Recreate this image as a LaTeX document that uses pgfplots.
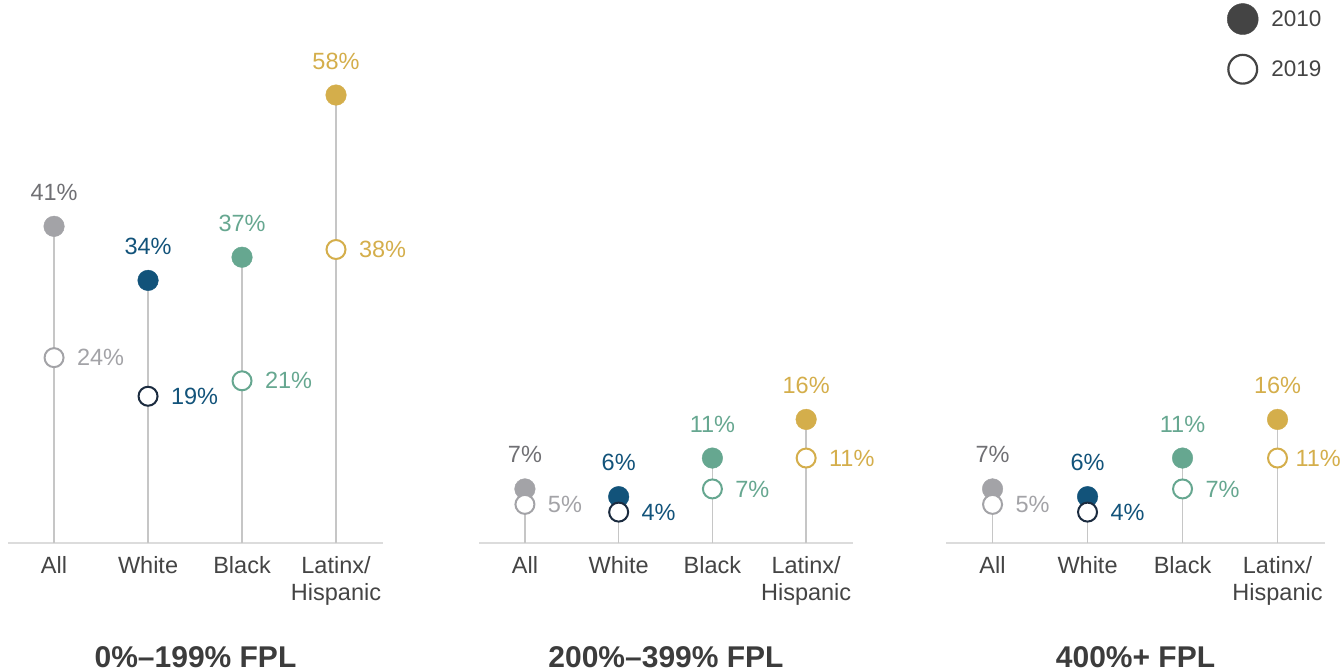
\documentclass[border=0pt]{standalone}
\usepackage{fontspec}
\setmainfont{Liberation Sans}
\usepackage{pgfplots}
\pgfplotsset{compat=1.18}

\definecolor{allc}{HTML}{A3A3A7}
\definecolor{alllab}{HTML}{707074}
\definecolor{whitec}{HTML}{12537A}
\definecolor{whitering}{HTML}{1B2B3F}
\definecolor{blackc}{HTML}{66A790}
\definecolor{latc}{HTML}{D4AE4B}
\definecolor{stem}{HTML}{C6C6C6}
\definecolor{baseln}{HTML}{DCDCDC}
\definecolor{txt}{HTML}{444444}
\definecolor{ttl}{HTML}{3C3C3C}

\newcommand\lblfont{\fontsize{23.5bp}{27bp}\selectfont}

% [#1] shift of the 2019 label, #2 x, #3 value 2010, #4 value 2019,
% #5 dot colour, #6 ring colour, #7 label colour 2010, #8 label colour 2019
\newcommand\lolli[8][22bp]{%
  \addplot[ycomb, draw=stem, line width=1.5bp, forget plot] coordinates {(#2,#3)};
  \addplot[only marks, color=#5, mark=*, mark size=10.3bp, forget plot,
    nodes near coords={#3\%},
    every node near coord/.append style={font=\lblfont, text=#7, anchor=base, yshift=26bp, inner sep=0pt}]
    coordinates {(#2,#3)};
  \addplot[only marks, mark=*, mark size=9.5bp, mark options={draw=#6, fill=white, line width=2bp}, forget plot,
    nodes near coords={#4\%},
    every node near coord/.append style={font=\lblfont, text=#8, anchor=west, xshift=#1, yshift=0bp, inner sep=0pt}]
    coordinates {(#2,#4)};
}

\pgfplotsset{panel/.style={
  scale only axis, height=463.4bp, anchor=south west,
  ymin=0, ymax=60, xmin=-0.49, xmax=3.5,
  axis y line=none, axis x line*=bottom,
  x axis line style={draw=baseln, line width=2bp},
  xtick={0,1,2,3}, xticklabels={All,White,Black,{Latinx/\\Hispanic}},
  major tick length=0pt,
  xticklabel style={font=\lblfont, text=txt, align=center, anchor=north, inner sep=0pt, yshift=-13bp},
  clip=false,
  xlabel style={font=\fontsize{30bp}{34bp}\selectfont\bfseries, text=ttl,
    at={(axis description cs:0.5,0)}, anchor=base, yshift=-124bp},
}}

\begin{document}
\begin{tikzpicture}
\path[use as bounding box] (0bp,0bp) rectangle (1342bp,672bp);

% 0%-199% FPL
\begin{axis}[panel, at={(8bp,129bp)}, width=375bp, xlabel={0\%–199\% FPL}]
  \lolli{0}{41}{24}{allc}{allc}{alllab}{allc}
  \lolli{1}{34}{19}{whitec}{whitering}{whitec}{whitec}
  \lolli{2}{37}{21}{blackc}{blackc}{blackc}{blackc}
  \lolli{3}{58}{38}{latc}{latc}{latc}{latc}
\end{axis}

% 200%-399% FPL
\begin{axis}[panel, at={(479bp,129bp)}, width=374bp, xlabel={200\%–399\% FPL}]
  \lolli{0}{7}{5}{allc}{allc}{alllab}{allc}
  \lolli{1}{6}{4}{whitec}{whitering}{whitec}{whitec}
  \lolli{2}{11}{7}{blackc}{blackc}{blackc}{blackc}
  \lolli{3}{16}{11}{latc}{latc}{latc}{latc}
\end{axis}

% 400%+ FPL
\begin{axis}[panel, at={(946bp,129bp)}, width=379bp, xlabel={400\%+ FPL},
  legend cell align=left,
  legend style={draw=none, fill=none, at={(0.741,1.165)}, anchor=north west,
    font=\fontsize{22.5bp}{26bp}\selectfont, text=txt, row sep=19bp, column sep=11bp,
    inner sep=0pt}]
  \lolli{0}{7}{5}{allc}{allc}{alllab}{allc}
  \lolli{1}{6}{4}{whitec}{whitering}{whitec}{whitec}
  \lolli{2}{11}{7}{blackc}{blackc}{blackc}{blackc}
  \lolli[17bp]{3}{16}{11}{latc}{latc}{latc}{latc}
  \addlegendimage{legend image code/.code={\fill[txt] (15.5bp,0bp) circle (15.5bp);}}
  \addlegendentry{2010}
  \addlegendimage{legend image code/.code={\draw[txt, line width=2.2bp, fill=white] (15.5bp,0bp) circle (14.4bp);}}
  \addlegendentry{2019}
\end{axis}
\end{tikzpicture}
\end{document}
